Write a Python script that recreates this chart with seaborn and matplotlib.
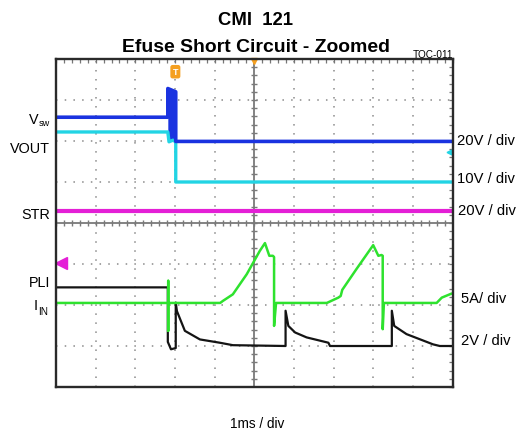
import numpy as np
import pandas as pd
import seaborn as sns
import matplotlib
matplotlib.use("Agg")
import matplotlib.pyplot as plt
from matplotlib import font_manager

# scope traces, time in ms (1 ms/div), level in divisions from screen centre
t_vsw = [-5.0, -2.18, -2.18, -1.98, -1.98, 5.0]
v_vsw = [2.58, 2.58, 3.28, 3.20, 1.99, 1.99]
# dense ringing block on Vsw at the short
spike_t = [-2.18, -2.10, -1.98]
spike_lo = [2.00, 1.99, 1.99]
spike_hi = [3.28, 3.28, 3.16]

t_vout = [-5.0, -2.18, -2.15, -2.05, -1.98, -1.98, 5.0]
v_vout = [2.22, 2.22, 1.98, 2.02, 1.98, 1.00, 1.00]

t_str = [-5.0, 5.0]
v_str = [0.30, 0.30]

t_iin = [-5.0, -2.17, -2.17, -2.17, -2.17, -0.86, -0.79, -0.54, -0.19, 0.14, 0.27,
         0.38, 0.47, 0.50, 0.50, 0.55, 1.83, 2.12, 2.18, 2.22, 2.58, 3.00, 3.13,
         3.21, 3.24, 3.24, 3.27, 4.60, 4.73, 4.98]
v_iin = [-1.95, -1.95, -1.41, -2.63, -1.95, -1.95, -1.90, -1.74, -1.25, -0.68, -0.49,
         -0.80, -0.80, -0.83, -2.51, -1.95, -1.95, -1.82, -1.78, -1.63, -1.12, -0.54, -0.80,
         -0.78, -0.80, -2.59, -1.95, -1.95, -1.82, -1.72]

t_pli = [-5.0, -2.18, -2.18, -2.10, -1.98, -1.98, -1.95, -1.75, -1.37, -0.87, -0.54,
         0.79, 0.79, 0.86, 1.03, 1.32, 1.87, 1.91, 3.47, 3.47, 3.53, 3.84, 4.51, 4.68, 5.0]
v_pli = [-1.57, -1.57, -2.90, -3.08, -3.05, -1.94, -2.15, -2.63, -2.84, -2.92, -2.98,
         -3.00, -2.14, -2.51, -2.67, -2.79, -2.92, -3.00, -3.00, -2.14, -2.51, -2.71, -2.96, -3.00, -3.00]

left_labels = ["VOUT", "STR", "PLI"]
scale_labels = ["20V / div", "10V / div", "20V / div", "5A/ div", "2V / div"]

W, H = 516, 435
sns.set_style("white")
names = {f.name for f in font_manager.fontManager.ttflist}
if "Liberation Sans Narrow" in names:
    NARROW, k = "Liberation Sans Narrow", 1.0
else:
    NARROW, k = "Liberation Sans", 0.8
plt.rcParams["font.family"] = ["Liberation Sans", "DejaVu Sans"]

fig = plt.figure(figsize=(W / 100, H / 100), dpi=100)
ax = fig.add_axes([56 / W, 1 - 388 / H, 396.5 / W, 328 / H])

# graticule
for x in np.arange(-4, 5):
    if x != 0:
        ax.axvline(x, color="#8a8a8a", lw=1.1, linestyle=(0, (1, 4.9)), zorder=0)
for y in np.arange(-3, 4):
    if y != 0:
        ax.axhline(y, color="#8a8a8a", lw=1.1, linestyle=(0, (1, 4.7)), zorder=0)
ax.axvline(0, color="#7a7a7a", lw=1.3, zorder=0)
ax.axhline(0, color="#7a7a7a", lw=1.3, zorder=0)
mt = np.arange(-5, 5.01, 0.2)
ax.plot(mt, np.zeros_like(mt), ls="none", marker="|", ms=4.5, mew=1, color="#7a7a7a", zorder=0)
mv = np.arange(-4, 4.01, 0.2)
ax.plot(np.zeros_like(mv), mv, ls="none", marker="_", ms=4.5, mew=1, color="#7a7a7a", zorder=0)

traces = [
    (t_str, v_str, "#e41fd6", 3.0),
    (t_vout, v_vout, "#22d4e4", 2.4),
    (t_vsw, v_vsw, "#1a33e0", 2.6),
    (t_pli, v_pli, "#141414", 1.6),
    (t_iin, v_iin, "#2ee22e", 1.8),
]
for t, v, c, lw in traces:
    df = pd.DataFrame({"t": t, "v": v})
    sns.lineplot(data=df, x="t", y="v", ax=ax, color=c, lw=lw, sort=False,
                 estimator=None, legend=False)
ax.fill_between(spike_t, spike_lo, spike_hi, color="#1a33e0", lw=0)

ax.set_xlim(-5, 5)
ax.set_ylim(-4, 4)
ax.set_xticks(np.arange(-5, 5.01, 0.2))
ax.set_yticks(np.arange(-4, 4.01, 0.2))
ax.tick_params(which="both", direction="in", length=3, width=0.9, color="#777777",
               top=True, right=True, labelbottom=False, labelleft=False)
ax.set_xlabel("")
ax.set_ylabel("")
for s in ax.spines.values():
    s.set_color("#2a2a2a")
    s.set_linewidth(1.7)

# scope markers
ax.text(-1.99, 3.69, "T", color="white", fontsize=6.5, fontweight="bold",
        ha="center", va="center",
        bbox=dict(boxstyle="round,pad=0.25", fc="#f5a020", ec="none"))
ax.plot(0, 3.94, marker="v", ms=5, color="#f5a020", clip_on=False)
ax.plot(-4.87, -0.98, marker="<", ms=8, color="#e41fd6", clip_on=False)
ax.plot(4.91, 1.74, marker="<", ms=3.5, color="#22d4e4", clip_on=False)


def label(px, py, s, size_px, ha="left", family=None, weight="normal", kk=None):
    fam = family or NARROW
    f = (kk if kk is not None else k) if fam == NARROW else 1.0
    fig.text(px / W, 1 - py / H, s, ha=ha, va="baseline", fontsize=size_px * 0.72 * f,
             family=[fam, "DejaVu Sans"], fontweight=weight, color="black")


tk = 1.0 if k == 1.0 else 0.84
label(256, 25, "CMI  121", 22, ha="center", weight="bold", kk=tk)
label(256.5, 52, "Efuse Short Circuit - Zoomed", 23, ha="center", weight="bold", kk=tk)
label(453, 57.5, "TOC-011", 12.5, ha="right", family="Liberation Sans")

label(38.5, 123.5, "V", 18, ha="right")
label(39, 126.5, "sw", 11.5)
label(50, 153.3, left_labels[0], 18, ha="right")
label(50, 219.3, left_labels[1], 18, ha="right")
label(50, 286.7, left_labels[2], 18, ha="right")
label(37.5, 310, "I", 18, ha="right")
label(38, 315, "IN", 12.5)

for (px, py), s in zip([(456.7, 145), (456.7, 183.3), (458, 215), (460.7, 303.3), (460.7, 345)],
                       scale_labels):
    label(px, py, s, 18.5)

label(256.7, 428, "1ms / div", 17, ha="center")

fig.savefig("out.png", dpi=100)
